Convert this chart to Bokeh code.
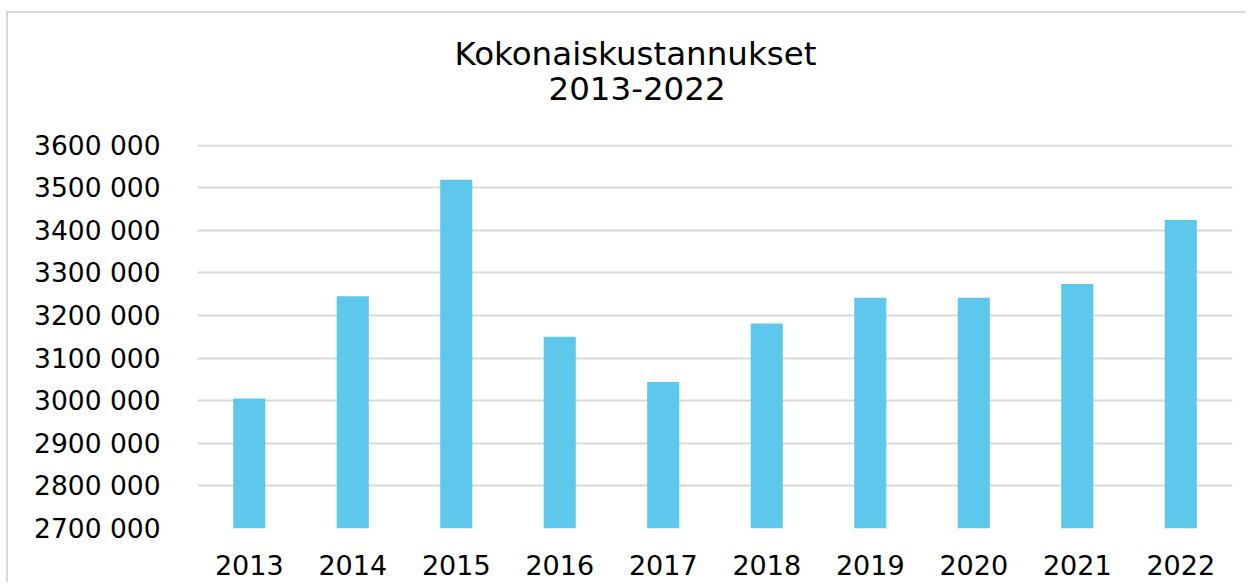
from bokeh.plotting import figure
from bokeh.models import FixedTicker, Title
from bokeh.embed import file_html
from bokeh.resources import INLINE

years = ["2013", "2014", "2015", "2016", "2017", "2018", "2019", "2020", "2021", "2022"]
costs = [3005000, 3245000, 3519000, 3150000, 3044000, 3181000, 3242000, 3242000, 3274000, 3424000]
y_ticks = [2700000, 2800000, 2900000, 3000000, 3100000, 3200000, 3300000, 3400000, 3500000, 3600000]
y_tick_labels = ["2700 000", "2800 000", "2900 000", "3000 000", "3100 000",
                 "3200 000", "3300 000", "3400 000", "3500 000", "3600 000"]
title_lines = ["Kokonaiskustannukset", "2013-2022"]

FONT = "DejaVu Sans"
BAR = "#5DC8EC"
GRID = "#D9D9D9"

p = figure(x_range=years, y_range=(2700000, 3601500), width=1239, height=571,
           output_backend="svg", toolbar_location=None,
           min_border_left=189, min_border_right=15, min_border_top=131, min_border_bottom=56)
p.styles = {"margin-left": "6px", "margin-top": "11px",
            "border-left": "2px solid #D9D9D9", "border-top": "2px solid #D9D9D9"}
p.outline_line_color = None
p.x_range.range_padding = 0

p.vbar(x=years, top=costs, bottom=2700000, width=0.31, fill_color=BAR, line_color=None)

p.yaxis.ticker = FixedTicker(ticks=y_ticks)
p.yaxis.major_label_overrides = {t: l for t, l in zip(y_ticks, y_tick_labels)}
for ax in (p.xaxis[0], p.yaxis[0]):
    ax.axis_line_color = None
    ax.major_tick_line_color = None
    ax.minor_tick_line_color = None
    ax.major_label_text_font = FONT
    ax.major_label_text_color = "#000000"
p.yaxis.major_label_text_font_size = "26.5px"
p.xaxis.major_label_text_font_size = "27px"
p.yaxis.major_label_standoff = 31
p.xaxis.major_label_standoff = 20

p.xgrid.grid_line_color = None
p.ygrid.ticker = FixedTicker(ticks=y_ticks)
p.ygrid.grid_line_color = GRID
p.ygrid.grid_line_width = 2

# blank spacer closest to the plot, then the two title lines
p.add_layout(Title(text=" ", text_font_size="1px", standoff=42), "above")
for txt, off, so in [(title_lines[1], 351, 0), (title_lines[0], 257, 4)]:
    p.add_layout(Title(text=txt, align="left", offset=off, text_font=FONT,
                       text_font_size="32.5px", text_font_style="normal",
                       text_color="#000000", standoff=so), "above")

open("out.html", "w").write(file_html(p, INLINE))
